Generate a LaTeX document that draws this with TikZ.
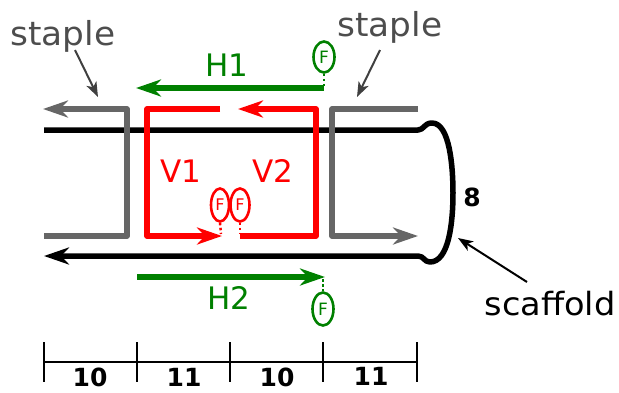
\documentclass[tikz,border=0pt]{standalone}
\usepackage{fontspec}
\setmainfont{DejaVu Sans}
\usetikzlibrary{arrows.meta,shapes.geometric}
\definecolor{stgray}{HTML}{666666}
\definecolor{txtgray}{HTML}{4D4D4D}
\definecolor{ptrgray}{HTML}{404040}
\definecolor{hgreen}{HTML}{008000}
\definecolor{vred}{HTML}{FF0000}
\begin{document}
\begin{tikzpicture}[x=1pt,y=-1pt,
  strand/.style={line width=5.5pt, line join=round, line cap=butt},
  bigtip/.style={-{Stealth[length=25pt,width=17pt,inset=8pt]}},
  ptr/.style={line width=2pt, -{Stealth[length=15pt,width=11pt,inset=4pt]}},
  dotln/.style={line width=2.5pt, dash pattern=on 2.5pt off 2.5pt},
  fmark/.style={ellipse, draw, line width=2.6pt, inner sep=0pt, font=\fontsize{17}{17}\selectfont},
  bigtxt/.style={font=\fontsize{31}{31}\selectfont, inner sep=0pt},
  numtxt/.style={font=\fontsize{25}{25}\selectfont\bfseries, inner sep=0pt},
  tick/.style={line width=1.8pt}]
\useasboundingbox (0,0) rectangle (619,392);

% ---------- scaffold ----------
\coordinate (scA) at (44,130);
\coordinate (scB) at (44,256);
\draw[strand, bigtip] (scA) -- (418,130)
  .. controls (424,130) and (424,123) .. (432,123)
  .. controls (450,123) and (453,168) .. (453,193)
  .. controls (453,222) and (449,262) .. (430,262)
  .. controls (424,262) and (424,256) .. (418,256)
  -- (scB);

% ---------- gray staples ----------
\coordinate (gl1) at (44,236);
\coordinate (gl2) at (43,109);
\draw[strand, stgray, bigtip] (gl1) -- (127,236) -- (127,109) -- (gl2);
\coordinate (gr1) at (418,109);
\coordinate (gr2) at (418,236);
\draw[strand, stgray, bigtip] (gr1) -- (332,109) -- (332,236) -- (gr2);

% ---------- red staples ----------
\coordinate (v1s) at (220,109);
\coordinate (v1e) at (222,236);
\draw[strand, vred, bigtip] (v1s) -- (147,109) -- (147,236) -- (v1e);
\coordinate (v2s) at (240,236);
\coordinate (v2e) at (238,109);
\draw[strand, vred, bigtip] (v2s) -- (316,236) -- (316,109) -- (v2e);

\node[fmark, vred, minimum width=18pt, minimum height=33pt, font=\fontsize{16}{16}\selectfont] (f1) at (220,205) {F};
\node[fmark, vred, minimum width=19pt, minimum height=33pt, font=\fontsize{16}{16}\selectfont] (f2) at (240,205) {F};
\coordinate (f1b) at (221,234);
\coordinate (f2b) at (240,234);
\draw[dotln, vred] (f1.south) -- (f1b);
\draw[dotln, vred] (f2.south) -- (f2b);

\node[bigtxt, vred] (v1) at (181,171) {V1};
\node[bigtxt, vred] (v2) at (273,171) {V2};

% ---------- green H1 / H2 ----------
\coordinate (h1s) at (324,88);
\coordinate (h1e) at (136,88);
\draw[strand, hgreen, bigtip] (h1s) -- (h1e);
\node[fmark, hgreen, minimum width=21pt, minimum height=31pt] (f3) at (324,57) {F};
\draw[dotln, hgreen] (f3.south) -- (h1s);
\node[bigtxt, hgreen] (h1) at (227,65) {H1};

\coordinate (h2s) at (137,277);
\coordinate (h2e) at (325,277);
\draw[strand, hgreen, bigtip] (h2s) -- (h2e);
\coordinate (h2d) at (323,279);
\node[fmark, hgreen, minimum width=21pt, minimum height=33pt] (f4) at (323,309) {F};
\draw[dotln, hgreen] (h2d) -- (f4.north);
\node[bigtxt, hgreen] (h2) at (229,298) {H2};

% ---------- labels ----------
\node[bigtxt, text=txtgray] (st1) at (63,36) {\fontsize{33}{33}\selectfont\scalebox{1.04}[1]{staple}};
\node[bigtxt, text=txtgray] (st2) at (390,27) {\fontsize{33}{33}\selectfont\scalebox{1.04}[1]{staple}};
\coordinate (p1a) at (75,50);
\coordinate (p1b) at (98,97);
\draw[ptr, ptrgray] (p1a) -- (p1b);
\coordinate (p2a) at (380,50);
\coordinate (p2b) at (357,97);
\draw[ptr, ptrgray] (p2a) -- (p2b);

\node[numtxt] (eight) at (472,197) {8};
\node[bigtxt] (scf) at (550,304) {\fontsize{32}{32}\selectfont\scalebox{1.05}[1]{scaffold}};
\coordinate (p3a) at (527,282);
\coordinate (p3b) at (458,238);
\draw[ptr, black] (p3a) -- (p3b);

% ---------- scale bar ----------
\coordinate (t0) at (44,362);
\coordinate (t4) at (417,362);
\draw[tick] (t0) -- (t4);
\foreach \x/\n in {44/a,137/b,230/c,323/d,417/e}{
  \coordinate (tk\n) at (\x,342);
  \draw[tick] (tk\n) -- ++(0,40);
}
\node[numtxt] (n1) at (90,377) {10};
\node[numtxt] (n2) at (184,377) {11};
\node[numtxt] (n3) at (277,377) {10};
\node[numtxt] (n4) at (371,376) {11};
\end{tikzpicture}
\end{document}
